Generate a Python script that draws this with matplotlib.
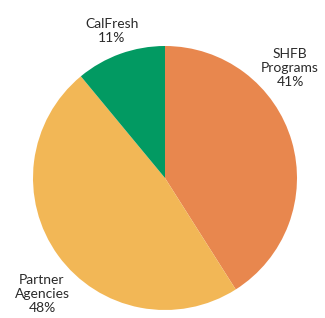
import matplotlib.pyplot as plt

categories = ['SHFB\nPrograms', 'Partner\nAgencies', 'CalFresh']
shares = [41, 48, 11]
colours = ['#E8874E', '#F2B756', '#029A62']

# label anchor points, in pixels from top-left
label_pos = [(290, 68), (42, 294), (112, 31)]

fig = plt.figure(figsize=(3.25, 3.18), dpi=100)
ax = fig.add_axes([0, 0, 1, 1])

ax.pie(shares, colors=colours, startangle=90, counterclock=False,
       center=(165, 140), radius=132, frame=True,
       wedgeprops=dict(linewidth=0))
ax.set_xlim(0, 325)
ax.set_ylim(0, 318)
ax.set_aspect('equal')
ax.axis('off')

for name, val, (x, y) in zip(categories, shares, label_pos):
    ax.text(x, 318 - y, f'{name}\n{val}%', ha='center', va='center',
            fontsize=10, family='Lato', color='#2a2a2a', linespacing=1.2)

fig.savefig('out.png', dpi=100)
